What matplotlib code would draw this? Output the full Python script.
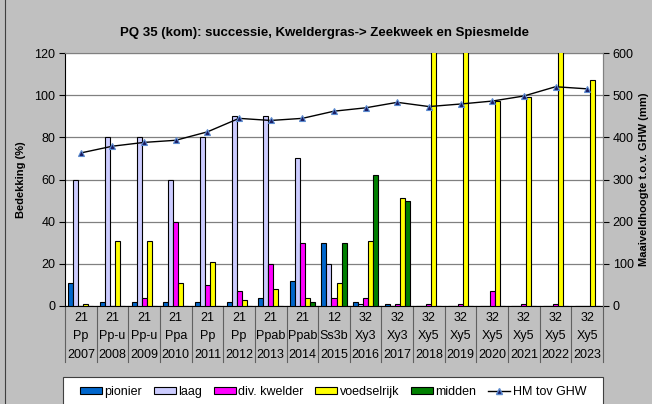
import matplotlib
matplotlib.use("Agg")
import matplotlib.pyplot as plt
from matplotlib.patches import Patch, Rectangle
from matplotlib.lines import Line2D
import numpy as np

plt.rcParams['font.family'] = ['Liberation Sans', 'DejaVu Sans']

# jaren, vegetatiecode en -type per opname
years = ['2007', '2008', '2009', '2010', '2011', '2012', '2013', '2014', '2015',
         '2016', '2017', '2018', '2019', '2020', '2021', '2022', '2023']
codes = ['21', '21', '21', '21', '21', '21', '21', '21', '12',
         '32', '32', '32', '32', '32', '32', '32', '32']
types = ['Pp', 'Pp-u', 'Pp-u', 'Ppa', 'Pp', 'Pp', 'Ppab', 'Ppab', 'Ss3b',
         'Xy3', 'Xy3', 'Xy5', 'Xy5', 'Xy5', 'Xy5', 'Xy5', 'Xy5']

# bedekking (%) per groep
pionier = [11, 2, 2, 2, 2, 2, 4, 12, 30, 2, 1, 0, 0, 0, 0, 0, 0]
laag = [60, 80, 80, 60, 80, 90, 90, 70, 20, 1, 0, 0, 0, 0, 0, 0, 0]
kwelder = [0, 0, 4, 40, 10, 7, 20, 30, 4, 4, 1, 1, 1, 7, 1, 1, 0]
voedselrijk = [1, 31, 31, 11, 21, 3, 8, 4, 11, 31, 51, 125, 125, 97, 99, 125, 107]
midden = [0, 0, 0, 0, 0, 0, 0, 2, 30, 62, 50, 0, 0, 0, 0, 0, 0]

# maaiveldhoogte t.o.v. GHW (mm)
hm = [363, 379, 388, 393, 413, 445, 440, 445, 462, 470, 483, 473, 479, 486, 498, 520, 515]

series = [('pionier', pionier, '#0066CC'),
          ('laag', laag, '#CCCCFF'),
          ('div. kwelder', kwelder, '#FF00FF'),
          ('voedselrijk', voedselrijk, '#FFFF00'),
          ('midden', midden, '#008000')]

fig = plt.figure(figsize=(6.52, 4.04), dpi=100, facecolor='#C0C0C0')
ax = fig.add_axes([65 / 652, 98 / 404, 538 / 652, 253 / 404])
ax.set_facecolor('white')

x = np.arange(len(years))
w = 0.158
for k, (name, vals, col) in enumerate(series):
    ax.bar(x + (k - 2) * w, vals, w, color=col, edgecolor='black', linewidth=0.8,
           zorder=3, label=name)

ax.set_xlim(-0.5, len(years) - 0.5)
ax.set_ylim(0, 120)
ax.set_yticks(range(0, 121, 20))
ax.tick_params(axis='y', labelsize=9, length=4, direction='out', pad=3)
ax.set_xticks([])
ax.yaxis.grid(True, color='#808080', linewidth=0.9, zorder=0)
ax.set_axisbelow(True)
for s in ['top', 'right']:
    ax.spines[s].set_color('#808080')
ax.spines['left'].set_color('black')
ax.spines['bottom'].set_color('black')
ax.set_ylabel('Bedekking (%)', fontsize=8, fontweight='bold', labelpad=6)

# hoogte op de secundaire as
ax2 = ax.twinx()
ax2.plot(x, hm, color='black', linewidth=1.0, marker='^', markersize=5,
         markerfacecolor='#1A1A60', markeredgecolor='#5B8BD0', markeredgewidth=0.8,
         zorder=5)
ax2.set_ylim(0, 600)
ax2.set_yticks(range(0, 601, 100))
ax2.tick_params(axis='y', labelsize=9, length=4, direction='out', pad=3)
ax2.spines['right'].set_color('#808080')
ax2.spines['top'].set_visible(False)
ax2.spines['left'].set_visible(False)
ax2.spines['bottom'].set_visible(False)
ax2.set_ylabel('Maaiveldhoogte t.o.v. GHW (mm)', fontsize=8, fontweight='bold',
               labelpad=4)

# categorie-as met drie regels
trans = ax.get_xaxis_transform()
row_y = [-12 / 253, -30 / 253, -49 / 253]
for i in range(len(years)):
    for txt, yy in zip([codes[i], types[i], years[i]], row_y):
        ax.text(i, yy, txt, transform=trans, ha='center', va='center', fontsize=9,
                clip_on=False)
for b in np.arange(-0.5, len(years), 1.0):
    ax.plot([b, b], [0, -56 / 253], transform=trans, color='#606060',
            linewidth=0.8, clip_on=False)

fig.text(0.498, (404 - 33) / 404,
         'PQ 35 (kom): successie, Kweldergras-> Zeekweek en Spiesmelde',
         ha='center', va='center', fontsize=9.5, fontweight='bold')

# legenda onderaan
fig.patches.append(Rectangle((63 / 652, -0.05), 540 / 652, (404 - 377) / 404 + 0.05,
                             transform=fig.transFigure, facecolor='white',
                             edgecolor='#404040', linewidth=0.8))
handles = [Patch(facecolor=col, edgecolor='black', linewidth=0.8, label=name)
           for name, vals, col in series]
handles.append(Line2D([], [], color='black', linewidth=1.0, marker='^', markersize=4.5,
                      markerfacecolor='#1A1A60', markeredgecolor='#5B8BD0',
                      label='HM tov GHW'))
fig.legend(handles=handles, loc='center', bbox_to_anchor=(333 / 652, 12 / 404),
           ncol=6, frameon=False, fontsize=9, handlelength=1.75, handleheight=0.5,
           handletextpad=0.2, columnspacing=0.95)

fig.add_artist(Line2D([5 / 652, 5 / 652], [0, 1], transform=fig.transFigure,
                      color='#404040', linewidth=0.8))

fig.savefig('out.png', dpi=100, facecolor=fig.get_facecolor())
